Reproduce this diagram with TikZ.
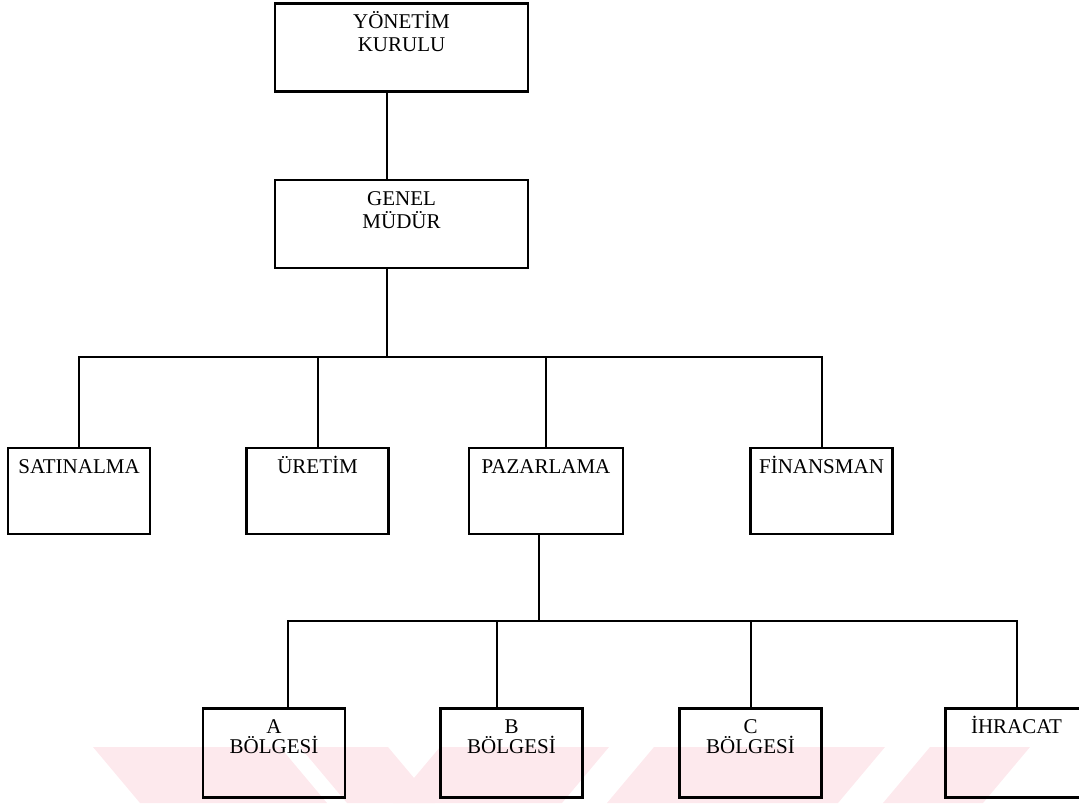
\documentclass[tikz,border=0pt]{standalone}
\usepackage{fontspec}
\setmainfont{Liberation Serif}

\definecolor{wmpink}{RGB}{253,233,237}

\tikzset{
  dept/.style={draw, line width=1.3pt, inner xsep=0pt, inner ysep=4pt,
    align=center, text height=8.5pt, font=\fontsize{10.5}{11.5}\selectfont},
  wide/.style={dept, text width=126.5pt, text depth=27.5pt},
  unit/.style={dept, text width=71pt, text depth=26.5pt},
  region/.style={dept, text width=71pt, text depth=28pt,
    font=\fontsize{10.5}{9.8}\selectfont},
  bus/.style n args={3}{edge from parent path={([xshift=#1]\tikzparentnode.south)
    -- ++(0,-#2) -| ([xshift=#3]\tikzchildnode.north)}}
}

\begin{document}
\begin{tikzpicture}[
  edge from parent/.style={draw, line width=1pt},
  level 1/.style={level distance=88.25pt, bus={-7.25pt}{22pt}{-7.25pt}},
  level 2/.style={level distance=133.5pt, sibling distance=0pt, bus={-7.25pt}{44pt}{0pt}},
  level 3/.style={level distance=131pt, sibling distance=0pt, bus={-3.5pt}{43pt}{0pt}}]
\useasboundingbox (0,0) rectangle (539.5pt,-401.5pt);
\clip (0,0) rectangle (539.5pt,-401.5pt);
% faint watermark along the bottom edge
\begin{scope}[x=0.5pt, y=-0.5pt]
\fill[wmpink] (93,747) -- (280,747) -- (327,803) -- (140,803) -- cycle;
\fill[wmpink] (300,747) -- (388,747) -- (435,803) -- (347,803) -- cycle;
\fill[wmpink] (440,747) -- (609,747) -- (562,803) -- (393,803) -- cycle;
\fill[wmpink] (654,747) -- (885,747) -- (838,803) -- (607,803) -- cycle;
\fill[wmpink] (930,747) -- (1030,747) -- (983,803) -- (883,803) -- cycle;
\end{scope}
% the board on top, the general manager below it,
% then one child for each department
\node[wide] (kurul) at (200.75pt,-23.75pt) {YÖNETİM\\KURULU}
    child{
      node[wide] (genel) {GENEL\\MÜDÜR}
      child[xshift=-161.25pt]{
        node[unit] (satin) {SATINALMA}
      }
      child[xshift=-42pt]{
        node[unit] (uretim) {ÜRETİM}
      }
      child[xshift=72.25pt]{
        node[unit, text width=77pt] (pazar) {PAZARLAMA}
        % the regions under marketing
        child[xshift=-136pt, bus={-3.5pt}{43pt}{7pt}]{
          node[region] (bolgeA) {A\\BÖLGESİ}
        }
        child[xshift=-17.25pt, bus={-3.5pt}{43pt}{-7.25pt}]{
          node[region] (bolgeB) {B\\BÖLGESİ}
        }
        child[xshift=102.25pt]{
          node[region] (bolgeC) {C\\BÖLGESİ}
        }
        child[xshift=235.25pt]{
          node[region] (ihracat) {İHRACAT}
        }
      }
      child[xshift=210pt]{
        node[unit] (finans) {FİNANSMAN}
      }
    };
\end{tikzpicture}
\end{document}
